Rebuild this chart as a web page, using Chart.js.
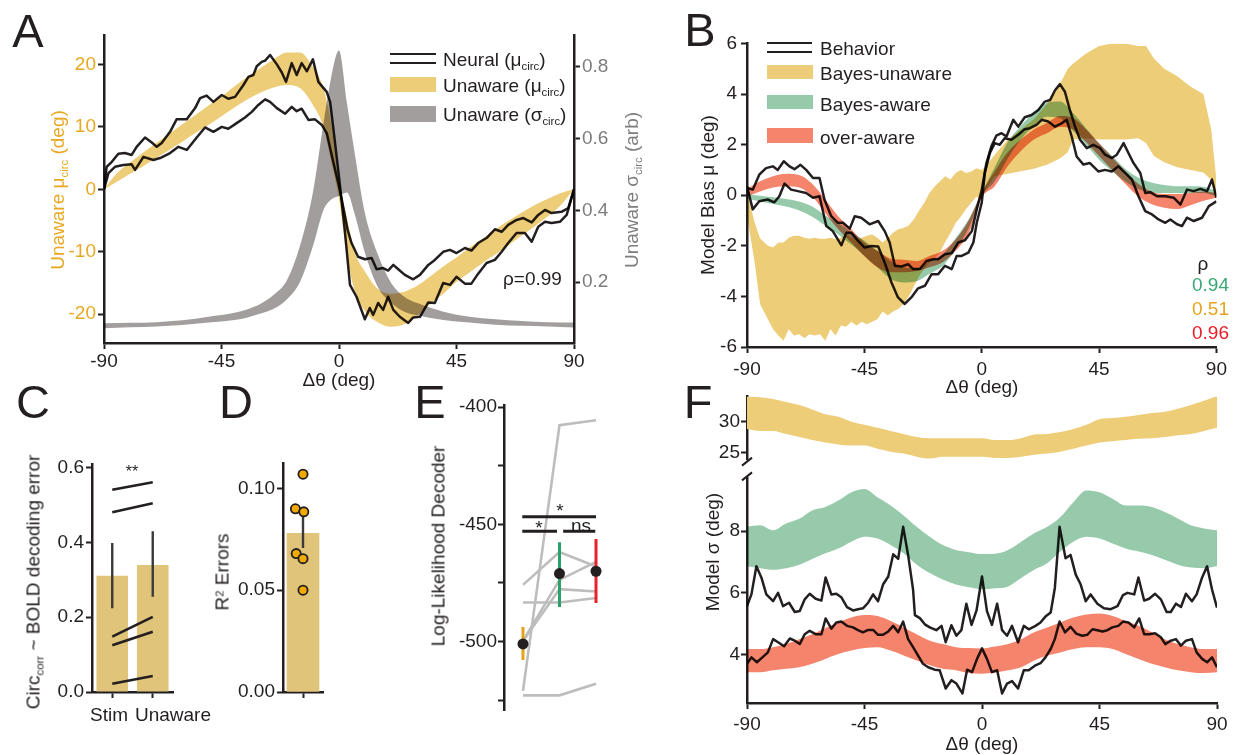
<!DOCTYPE html>
<html>
<head>
<meta charset="utf-8">
<script src="https://cdn.jsdelivr.net/npm/chart.js@4.4.1/dist/chart.umd.min.js"></script>
<style>
  html, body { margin: 0; padding: 0; background: #fff; }
  #fig { position: relative; width: 1239px; height: 755px; overflow: hidden;
         font-family: "Liberation Sans", Arial, sans-serif; color: #231f20; }
  #fig canvas { position: absolute; }
  .t { position: absolute; white-space: nowrap; line-height: 1; }
  .s { font-size: 0.6em; position: relative; top: 0.38em; }
  .p { font-size: 0.6em; position: relative; top: -0.45em; }
  .sw { position: absolute; }
</style>
</head>
<body>
<div id="fig"></div>
<script>
// ---------- shared ----------
const ANGLE_TICKS = [-90, -45, 0, 45, 90];

// ---------- A: neural bias vs. Bayes-unaware model ----------
const aMuTicks = [-20, -10, 0, 10, 20];
const aSigmaTicks = [0.2, 0.4, 0.6, 0.8];
const neuralA1 = [[-90,0],[-89,3.6],[-87,4.4],[-84.5,5.7],[-82,5.8],[-79.4,5.5],[-77.5,6.8],[-74.3,8.3],[-71.7,7.5],[-69.8,6.8],[-67.9,7.4],[-64.7,9.2],[-62.2,11.2],[-58.3,11.2],[-55.1,13.0],[-53.2,14.6],[-50.7,15.0],[-48.1,14.0],[-44.9,15.1],[-42.4,14.5],[-39.8,14.8],[-36.6,16.7],[-34.7,18.0],[-32.8,18.3],[-31.5,19.7],[-29.6,20.4],[-28.3,20.6],[-26.4,21.5],[-23.8,20.0],[-21.9,18.7],[-20.3,17.2],[-18.1,20.2],[-16.2,18.3],[-14.3,20.2],[-12.3,18.9],[-10.0,20.8],[-7.9,17.2],[-4.7,15.6],[-3.4,14.0],[-2.1,9.5],[0,2.0],[2.2,-6.5],[4.2,-15.3],[6.7,-17.2],[9.9,-20.8],[11.8,-19.0],[13.1,-20.1],[15.0,-18.2],[16.9,-19.3],[18.8,-17.2],[20.8,-19.3],[23.3,-20.4],[26.5,-21.4],[28.4,-20.5],[31.0,-20.4],[34.2,-18.1],[36.7,-18.2],[39.9,-15.0],[42.5,-15.3],[45.0,-14.0],[48.2,-15.1],[50.7,-15.1],[53.3,-13.5],[56.5,-11.8],[59.7,-11.3],[62.3,-10.0],[64.8,-8.6],[68.0,-7.0],[71.2,-7.0],[73.8,-8.4],[76.3,-6.0],[78.9,-5.2],[81.4,-5.4],[84.6,-5.2],[87.2,-4.1],[90,0]];
const neuralA2 = [[-90,0],[-88.3,2.6],[-85.8,3.6],[-82.6,3.9],[-79.4,4.0],[-78.1,3.1],[-74.9,5.2],[-71.1,4.7],[-68.5,5.0],[-64.7,5.8],[-61.5,6.8],[-58.3,6.3],[-54.5,8.3],[-51.3,9.9],[-48.1,9.2],[-44.9,10.0],[-42.4,9.7],[-39.2,10.6],[-36.0,11.5],[-33.4,12.4],[-30.9,13.5],[-28.3,14.4],[-26.4,14.0],[-23.8,13.0],[-20.6,12.1],[-18.1,13.2],[-16.2,12.5],[-14.3,12.9],[-11.7,11.1],[-9.2,11.2],[-6.6,10.3],[-4.7,9.0],[-2.1,4.2],[0,0.5],[1.0,-1.5],[3.3,-6.5],[4.8,-8.6],[7.3,-10.8],[9.9,-11.2],[12.5,-11.0],[14.4,-12.8],[16.9,-12.6],[18.8,-13.0],[20.8,-12.1],[22.7,-12.8],[25.2,-13.7],[28.4,-14.4],[31.0,-13.7],[34.2,-12.1],[36.7,-11.3],[39.9,-10.0],[42.5,-9.7],[45.0,-10.2],[48.2,-9.4],[50.7,-9.8],[53.3,-8.6],[56.5,-7.8],[59.7,-6.4],[62.3,-6.8],[64.8,-5.7],[68.0,-4.9],[70.6,-4.6],[73.8,-5.3],[76.3,-4.1],[78.9,-3.3],[81.4,-3.8],[85.2,-3.6],[87.8,-3.0],[90,0]];
// [deg, lower edge, upper edge]
const unawareMuA = [[-90,0,0],[-85,1.2,2.6],[-80,2.5,4.3],[-75,3.7,5.9],[-70,5.0,7.4],[-65,6.3,8.9],[-60,7.6,10.4],[-55,9.0,11.9],[-50,10.3,13.4],[-45,11.7,14.8],[-40,13.1,16.5],[-35,14.4,18.0],[-30,15.5,19.4],[-25,16.3,20.8],[-20,16.7,21.9],[-15,16.2,21.9],[-10,13.5,19.6],[-6,10.0,16.2],[-3,4.5,10.5],[0,-1.5,1.0],[3,-10.5,-4.5],[6,-16.2,-10.0],[10,-19.5,-13.2],[15,-21.3,-16.0],[20,-22.0,-16.7],[25,-21.6,-16.4],[30,-20.2,-15.4],[35,-18.3,-13.9],[40,-16.7,-12.3],[45,-14.8,-10.9],[50,-13.3,-9.3],[55,-11.8,-7.9],[60,-10.4,-6.4],[65,-8.9,-5.0],[70,-7.4,-3.7],[75,-5.9,-2.5],[80,-4.3,-1.5],[85,-2.5,-0.6],[90,0,0]];
const unawareSigmaA = [[-90,0.072,0.086],[-80,0.075,0.087],[-70,0.077,0.089],[-60,0.081,0.094],[-50,0.088,0.104],[-40,0.095,0.115],[-35,0.102,0.125],[-30,0.113,0.140],[-25,0.126,0.165],[-20,0.152,0.205],[-15,0.20,0.30],[-10,0.30,0.45],[-6,0.40,0.64],[-3,0.43,0.77],[0,0.44,0.845],[3,0.45,0.70],[6,0.39,0.56],[10,0.28,0.39],[15,0.185,0.275],[20,0.143,0.198],[25,0.118,0.160],[30,0.108,0.142],[40,0.095,0.118],[50,0.088,0.104],[60,0.082,0.097],[70,0.079,0.092],[80,0.077,0.089],[90,0.074,0.088]];

// ---------- B: behavioural bias vs. models ----------
const bTicks = [-6, -4, -2, 0, 2, 4, 6];
const behaviorB1 = [[-90,0.29],[-87.8,0.22],[-85.3,0.81],[-82.7,1.07],[-80.1,1.14],[-78.2,1.0],[-75.9,1.34],[-73.7,1.14],[-71.8,1.03],[-69.5,1.2],[-67.3,1.0],[-64.7,0.68],[-62.2,0.68],[-60.3,-0.17],[-57.7,-0.83],[-55.1,-1.09],[-53.2,-1.09],[-50.6,-1.32],[-48.7,-0.83],[-46.2,-0.89],[-43.0,-1.15],[-39.7,-1.02],[-37.2,-1.42],[-35.3,-1.87],[-33.3,-2.79],[-30.8,-2.82],[-28.2,-2.73],[-26.3,-2.92],[-23.7,-2.92],[-21.2,-2.6],[-18.6,-2.53],[-16.7,-2.53],[-14.1,-2.33],[-11.5,-2.29],[-9.0,-1.87],[-6.4,-1.78],[-3.8,-1.42],[-1.9,-0.56],[0,0.2],[1.8,1.27],[3.7,1.93],[5.6,2.35],[7.6,2.45],[9.5,2.32],[12.1,2.98],[14.0,2.71],[16.5,3.08],[19.1,3.17],[21.7,3.37],[24.2,3.7],[26.2,3.76],[28.1,4.15],[30.0,4.39],[31.9,4.09],[33.8,3.37],[35.8,2.71],[37.7,2.19],[40.3,1.86],[42.8,1.99],[45.4,1.86],[47.3,1.6],[49.9,1.47],[51.8,1.6],[54.4,2.06],[56.3,1.66],[58.2,1.27],[60.8,0.88],[62.7,0.09],[64.6,0.12],[67.2,-0.04],[70.4,-0.04],[73.6,-0.1],[76.2,-0.37],[78.7,0.22],[81.3,0.16],[83.8,0.25],[86.4,0.16],[88.3,0.62],[90,-0.1]];
const behaviorB2 = [[-90,0.35],[-87.8,-0.56],[-85.3,-0.24],[-82.1,-0.17],[-79.5,-0.28],[-77.6,-0.04],[-75.6,0.46],[-73.1,0.22],[-70.5,0.16],[-67.3,0.09],[-64.7,-0.1],[-62.2,-0.04],[-59.6,-1.22],[-57.1,-1.42],[-53.8,-1.98],[-51.9,-1.48],[-50.0,-1.48],[-47.4,-1.81],[-44.9,-2.07],[-42.3,-2.01],[-39.7,-2.03],[-37.2,-2.66],[-34.6,-3.45],[-32.1,-4.04],[-29.5,-4.3],[-27.0,-4.04],[-24.4,-3.68],[-21.8,-3.58],[-19.2,-3.12],[-16.7,-3.12],[-14.1,-2.79],[-11.5,-2.92],[-9.6,-2.4],[-7.7,-2.4],[-5.1,-2.27],[-3.2,-1.87],[-1.9,-1.09],[0,-0.3],[1.2,0.88],[3.1,1.66],[5.0,2.06],[6.9,1.99],[8.8,2.25],[11.4,2.19],[14.0,2.39],[16.5,2.61],[18.5,2.65],[21.0,2.78],[23.0,2.98],[25.5,2.91],[28.1,2.71],[30.6,2.84],[32.6,2.98],[34.5,2.32],[36.4,1.53],[39.0,1.21],[41.5,1.27],[44.7,0.94],[47.3,1.0],[49.9,0.94],[52.4,1.14],[55.0,0.88],[57.6,0.62],[60.1,-0.04],[62.7,-0.63],[65.3,-0.76],[67.8,-0.96],[70.4,-1.09],[72.3,-0.96],[74.9,-1.15],[76.8,-1.22],[78.7,-0.89],[81.3,-1.02],[84.5,-0.89],[87.1,-0.43],[90,-0.24]];
const unawareB = [[-90,-0.8,0.1],[-87,-2.7,-1.1],[-85,-4.3,-1.7],[-82,-4.9,-2.0],[-80,-5.3,-2.07],[-78,-5.55,-1.87],[-76,-5.75,-1.87],[-74,-5.3,-1.68],[-72,-5.55,-1.6],[-70,-5.5,-1.6],[-68,-5.65,-1.68],[-66,-5.5,-1.72],[-64,-5.55,-1.68],[-62,-5.5,-1.72],[-60,-5.75,-1.72],[-58,-5.3,-1.68],[-56,-5.55,-1.74],[-54,-5.15,-1.68],[-52,-5.2,-1.55],[-50,-5.0,-1.68],[-48,-5.15,-1.74],[-46,-5.0,-1.68],[-44,-5.1,-1.6],[-42,-5.0,-1.55],[-40,-4.9,-1.68],[-38,-4.6,-1.87],[-36,-4.75,-1.68],[-34,-4.6,-1.48],[-32,-4.5,-1.35],[-30,-4.3,-1.3],[-28,-4.0,-1.2],[-26,-3.6,-0.95],[-24,-3.2,-0.6],[-22,-2.9,-0.3],[-20,-2.65,0.1],[-18,-2.5,0.35],[-16,-2.25,0.55],[-14,-1.85,0.75],[-12,-1.5,0.62],[-10,-1.1,0.88],[-8,-0.85,1.0],[-6,-0.55,0.88],[-4,-0.3,0.94],[-2,-0.05,1.07],[0,-0.2,1.0],[2,0.3,1.2],[5,0.75,1.6],[10,0.85,2.2],[15,0.95,2.6],[20,1.05,3.0],[25,1.2,3.6],[30,1.45,4.4],[33,1.7,5.0],[35,2.2,5.2],[40,2.25,5.6],[45,2.2,5.9],[50,2.2,6.0],[55,2.2,6.0],[60,2.25,5.9],[63,2.06,5.9],[66,1.55,5.4],[70,1.3,5.0],[75,1.1,4.7],[80,1.0,4.3],[85,0.9,4.0],[88,0.6,2.6],[90,-0.1,0.6]];
const awareB = [[-90,-0.12,0.05],[-85,-0.25,-0.02],[-80,-0.35,-0.08],[-75,-0.45,-0.15],[-70,-0.6,-0.25],[-65,-0.85,-0.45],[-60,-1.2,-0.8],[-55,-1.55,-1.1],[-50,-1.95,-1.45],[-45,-2.4,-1.8],[-40,-2.85,-2.2],[-35,-3.3,-2.6],[-30,-3.45,-2.85],[-25,-3.4,-2.9],[-20,-3.1,-2.6],[-15,-2.8,-2.35],[-10,-2.15,-1.7],[-5,-1.3,-0.95],[0,-0.05,0.1],[5,0.55,1.1],[10,1.45,2.1],[15,2.2,2.75],[20,2.75,3.25],[25,3.1,3.65],[30,3.05,3.7],[35,2.55,3.25],[40,2.0,2.65],[45,1.4,2.05],[50,0.95,1.55],[55,0.55,1.05],[60,0.25,0.7],[65,0.12,0.5],[70,0.09,0.4],[75,0.09,0.35],[80,0.09,0.35],[85,0.09,0.33],[90,-0.04,0.16]];
const overAwareB = [[-90,-0.05,0.25],[-85,0.15,0.55],[-80,0.3,0.75],[-75,0.35,0.85],[-70,0.3,0.8],[-65,-0.05,0.45],[-60,-0.7,-0.17],[-55,-1.35,-0.83],[-50,-1.87,-1.35],[-45,-2.4,-1.87],[-40,-2.85,-2.2],[-35,-3.05,-2.5],[-30,-3.05,-2.55],[-25,-3.0,-2.6],[-20,-2.85,-2.4],[-15,-2.65,-2.2],[-10,-2.2,-1.75],[-5,-1.5,-1.0],[0,-0.1,0.1],[5,0.35,0.95],[10,1.15,1.7],[15,1.75,2.2],[20,2.2,2.6],[25,2.45,2.85],[30,2.7,3.13],[35,2.6,3.05],[40,2.1,2.6],[45,1.55,2.05],[50,1.0,1.5],[55,0.45,0.95],[60,-0.05,0.45],[65,-0.35,0.15],[70,-0.5,0.05],[75,-0.55,0.05],[80,-0.4,0.1],[85,-0.22,0.15],[90,-0.1,0.1]];

// ---------- C: circular correlation with decoding error ----------
const cCats = ['Stim', 'Unaware'];
const cTicks = [0, 0.2, 0.4, 0.6];
const cMeans = [0.311, 0.340];
const cErr = [[0.224, 0.399], [0.255, 0.430]];
const cPairs = [[0.541, 0.561], [0.481, 0.505], [0.148, 0.201], [0.125, 0.161], [0.022, 0.043]];

// ---------- D: R^2 of errors ----------
const dTicks = [0, 0.05, 0.10];
const dMean = 0.078;
const dErr = [0.0707, 0.0898];
const dPoints = [[0, 0.107], [-0.19, 0.090], [0.02, 0.0885], [-0.17, 0.068], [0, 0.0655], [0, 0.050]];

// ---------- E: decoder log-likelihood ----------
const eTicks = [-525, -500, -475, -450, -425, -400];
const eSubjects = [[-521.0, -407.7, -405.6], [-475.8, -461.8, -468.0], [-483.3, -483.3, -481.4], [-499.7, -477.6, -478.6], [-499.7, -473.7, -466.0], [-522.9, -522.9, -518.0]];
const eMeans = [-501, -471, -470];
const eErr = [[-507.8, -493.8], [-485.2, -457.6], [-483.5, -456.2]];
const eColors = ['#e5a21c', '#2e9e6b', '#e8202a'];
// [from, to, level]
const eSigBars = [[-0.02, 2.0, -446.8], [-0.02, 0.93, -453.0], [1.1, 1.98, -453.0]];

// ---------- F: model sigma ----------
const fTopTicks = [25, 30];
const fLowTicks = [4, 6, 8];
const unawareF = [[-90,28.8,34.2],[-85,28.5,34.0],[-80,28.5,33.7],[-75,28.0,33.2],[-70,27.5,32.7],[-65,27.0,32.0],[-60,26.6,31.2],[-55,26.3,30.8],[-50,26.1,30.0],[-45,26.1,29.5],[-40,25.6,29.0],[-35,25.1,28.5],[-30,24.8,28.0],[-25,24.3,27.5],[-20,24.0,27.3],[-15,24.3,27.3],[-10,24.3,27.3],[-5,24.3,27.3],[0,24.3,27.3],[5,24.1,27.0],[10,24.1,27.0],[15,24.3,27.3],[20,24.6,27.9],[25,24.8,28.0],[30,25.1,28.3],[35,25.6,28.8],[40,26.1,29.5],[45,26.6,30.4],[50,26.8,30.6],[55,27.0,30.8],[60,27.2,31.1],[65,27.3,31.4],[70,27.5,31.6],[75,27.8,32.1],[80,28.0,32.7],[85,28.5,33.4],[90,29.0,34.2]];
const awareF = [[-90,6.86,8.14],[-85,6.8,8.19],[-80,6.75,8.03],[-75,6.8,8.25],[-70,6.91,8.4],[-65,7.1,8.67],[-60,7.28,8.78],[-55,7.44,8.99],[-50,7.66,9.26],[-45,7.82,9.37],[-40,7.76,9.1],[-35,7.55,8.83],[-30,7.28,8.51],[-25,6.91,8.14],[-20,6.64,7.82],[-15,6.43,7.55],[-10,6.27,7.39],[-5,6.18,7.32],[0,6.12,7.26],[5,6.15,7.27],[10,6.21,7.39],[15,6.48,7.66],[20,6.75,7.93],[25,6.96,8.14],[30,7.34,8.46],[35,7.66,8.94],[40,7.82,9.32],[45,7.76,9.26],[50,7.6,9.05],[55,7.44,8.83],[60,7.34,8.83],[65,7.23,8.78],[70,7.07,8.62],[75,6.91,8.41],[80,6.82,8.19],[85,6.8,8.09],[90,6.86,8.03]];
const overAwareF = [[-90,3.43,4.18],[-85,3.43,4.18],[-80,3.49,4.24],[-75,3.54,4.34],[-70,3.59,4.5],[-65,3.7,4.66],[-60,3.86,4.86],[-55,4.02,5.04],[-50,4.13,5.2],[-45,4.21,5.28],[-40,4.24,5.25],[-35,4.13,5.09],[-30,3.97,4.88],[-25,3.81,4.66],[-20,3.65,4.45],[-15,3.54,4.34],[-10,3.49,4.24],[-5,3.4,4.21],[0,3.38,4.2],[5,3.42,4.26],[10,3.49,4.34],[15,3.59,4.5],[20,3.81,4.72],[25,3.97,4.88],[30,4.07,5.04],[35,4.18,5.2],[40,4.24,5.3],[45,4.24,5.33],[50,4.18,5.25],[55,4.02,5.09],[60,3.86,4.93],[65,3.7,4.72],[70,3.59,4.5],[75,3.49,4.34],[80,3.43,4.24],[85,3.4,4.18],[90,3.43,4.18]];
const neuralF1 = [[-90,5.57],[-88.3,5.95],[-86.4,6.86],[-84.5,6.5],[-82.6,5.95],[-80,5.73],[-78.1,6.0],[-76.2,5.57],[-73.9,5.68],[-71.7,5.38],[-69.8,5.41],[-67.9,5.79],[-66,5.97],[-63.7,5.81],[-61.5,5.75],[-59.9,6.5],[-57.7,5.95],[-55.8,5.97],[-53.9,5.86],[-51.7,5.54],[-49.4,5.43],[-47.5,5.47],[-45.6,5.5],[-43.6,5.68],[-41.7,5.95],[-39.8,5.73],[-37.9,6.27],[-35.9,6.53],[-34,7.25],[-32.1,7.1],[-30.2,8.14],[-28.3,7.23],[-26.4,6.11],[-25.7,5.28],[-23.8,5.18],[-21.9,4.98],[-20,4.88],[-17.5,4.79],[-15.5,4.93],[-13.9,4.4],[-11.7,4.95],[-9.8,4.61],[-7.9,4.79],[-6,5.65],[-4,4.96],[-2.1,5.43],[0,6.53],[1.9,5.41],[3.8,4.96],[5.8,5.65],[7.7,4.79],[9.6,4.61],[11.5,4.93],[13.8,4.4],[16,4.93],[17.9,4.82],[20.5,4.93],[22.4,5.04],[24.3,5.23],[26.3,5.36],[27.9,6.16],[29.7,8.14],[32,7.12],[33.9,7.23],[35.9,6.59],[37.8,6.27],[39.7,5.73],[41.6,5.95],[44.2,5.65],[46.7,5.5],[49.3,5.47],[51.9,5.57],[54,5.93],[55.7,6.0],[58.3,5.95],[59.9,6.5],[62.1,5.75],[64,5.81],[66.3,5.97],[68.5,5.79],[70.7,5.38],[72.3,5.38],[74.3,5.65],[76.2,5.54],[78.1,5.97],[80.4,5.73],[82.2,5.95],[84.3,6.5],[86.2,6.86],[88.1,6.11],[90,5.52]];
const neuralF2 = [[-90,3.7],[-88.3,3.91],[-86.2,3.75],[-84.1,3.91],[-82,4.07],[-80,4.5],[-78.1,4.4],[-75.8,4.27],[-73.6,4.52],[-71.7,4.45],[-69.8,4.34],[-67.9,4.66],[-66,4.77],[-63.7,4.66],[-61.5,4.66],[-59.9,5.17],[-57.7,4.84],[-55.8,5.04],[-53.9,5.07],[-51.7,4.93],[-49.4,4.88],[-47.5,4.79],[-45.6,4.72],[-43.6,4.8],[-41.7,4.8],[-39.8,4.64],[-37.9,4.64],[-35.9,4.75],[-34,4.93],[-32.1,4.72],[-30.2,5.07],[-28.3,4.5],[-26.4,4.24],[-24.5,3.97],[-22.6,3.7],[-20.6,3.59],[-18.1,3.51],[-16.2,3.49],[-13.9,2.9],[-11.7,3.17],[-9.8,3.06],[-7.5,2.74],[-5.7,3.51],[-3.8,3.43],[-1.9,3.86],[0,4.2],[1.9,3.86],[3.8,3.43],[5.8,3.49],[7.7,2.74],[9.6,3.06],[11.5,3.14],[13.8,2.9],[16,3.49],[17.9,3.49],[20.5,3.65],[22.4,3.72],[24.3,3.91],[26.3,4.18],[27.9,4.5],[29.7,5.07],[31.8,4.72],[33.9,4.9],[36.1,4.68],[38.4,4.61],[40.3,4.64],[42.3,4.82],[44.2,4.79],[46.1,4.75],[48,4.79],[49.9,4.88],[52.2,4.93],[54,5.07],[56.1,5.04],[58.3,4.88],[60.2,5.17],[62.1,4.66],[64,4.66],[66.3,4.69],[68.5,4.56],[70.2,4.34],[72.3,4.45],[74.3,4.5],[76.2,4.29],[78.1,4.45],[80.4,4.5],[82.2,4.07],[84.3,3.86],[86.2,3.75],[88.1,3.91],[90,3.59]];

// ---------- styling ----------
const INK = '#231f20';
const GOLD = '#eecd78', GREY = '#a39e9e', GREEN = '#97caab', SALMON = '#f4846c';
const BAR = '#dfc47a', DOT = '#f2a900';
const GOLD_TXT = '#e9a823', GREY_TXT = '#7d7d7d';

Chart.defaults.font.family = '"Liberation Sans", Arial, sans-serif';
Chart.defaults.font.size = 19;
Chart.defaults.color = INK;

const fig = document.getElementById('fig');

// canvas sized so the plot area lands on `area`; m = room for axes
function mount(area, m) {
  const c = document.createElement('canvas');
  const w = m.l + (area.r - area.l) + m.r;
  const h = m.t + (area.b - area.t) + m.b;
  c.width = w; c.height = h;
  c.style.left = (area.l - m.l) + 'px';
  c.style.top = (area.t - m.t) + 'px';
  c.style.width = w + 'px';
  c.style.height = h + 'px';
  fig.appendChild(c);
  return c;
}

function options(m, scales, rightAxis, bottomAxis) {
  return {
    responsive: false, animation: false, devicePixelRatio: 1,
    layout: { padding: { left: 0, top: m.t, right: rightAxis ? 0 : m.r, bottom: bottomAxis ? 0 : m.b } },
    plugins: { legend: { display: false }, tooltip: { enabled: false } },
    scales
  };
}

const tickGrid = { drawOnChartArea: false, drawTicks: true, tickLength: 6, tickWidth: 2, tickColor: INK, offset: false };
const axisLine = { display: true, color: INK, width: 2.5 };

function scale(o) {
  const horiz = o.position === 'bottom';
  return {
    type: 'linear', position: o.position, min: o.min, max: o.max, offset: false,
    afterBuildTicks: s => { s.ticks = o.ticks.map(v => ({ value: v })); },
    afterFit: s => { if (horiz) s.height = o.size; else s.width = o.size; },
    ticks: { color: o.color || INK, padding: o.pad ?? 2, autoSkip: false, maxRotation: 0,
             callback: o.fmt || (v => String(v)) },
    grid: tickGrid,
    border: axisLine
  };
}

const xy = (rows, i = 1) => rows.map(r => ({ x: r[0], y: r[i] }));

function trace(rows, order = 0) {
  return { data: xy(rows), borderColor: INK, borderWidth: 2.5, pointRadius: 0, fill: false,
           tension: 0, borderJoinStyle: 'round', order };
}

function band(rows, color, order, smooth, yAxisID = 'y') {
  const common = { pointRadius: 0, borderWidth: 0, borderColor: 'transparent', order, yAxisID,
                   cubicInterpolationMode: smooth ? 'monotone' : 'default', tension: 0 };
  return [
    { ...common, data: xy(rows, 1), fill: false },
    { ...common, data: xy(rows, 2), fill: '-1', backgroundColor: color }
  ];
}

function whisker(x, range, color, width, order) {
  return { type: 'line', data: [{ x, y: range[0] }, { x, y: range[1] }], borderColor: color,
           borderWidth: width, pointRadius: 0, fill: false, order };
}

// overlapping shaded bands darken each other like print ink
const multiply = {
  id: 'multiply',
  beforeDatasetsDraw(chart) { chart.ctx.save(); chart.ctx.globalCompositeOperation = 'multiply'; },
  afterDatasetsDraw(chart) { chart.ctx.restore(); }
};

// slanted marks where the sigma axis is cut
const axisBreak = edge => ({
  id: 'axisBreak',
  afterDraw(chart) {
    const { ctx, chartArea: a } = chart;
    const y = edge === 'bottom' ? a.bottom + 2 : a.top - 2;
    ctx.save();
    ctx.strokeStyle = INK; ctx.lineWidth = 2;
    ctx.beginPath(); ctx.moveTo(a.left - 5, y + 4); ctx.lineTo(a.left + 5, y - 4); ctx.stroke();
    ctx.restore();
  }
});

// ---------- A ----------
const aArea = { l: 104, r: 574, t: 35, b: 343 }, aM = { l: 60, r: 50, t: 15, b: 35 };
new Chart(mount(aArea, aM), {
  type: 'line',
  data: { datasets: [
    trace(neuralA1), trace(neuralA2),
    ...band(unawareSigmaA, GREY, 1, true, 'y2'),
    ...band(unawareMuA, GOLD, 2, true)
  ] },
  options: options(aM, {
    x: scale({ position: 'bottom', min: -90, max: 90, ticks: ANGLE_TICKS, size: aM.b, pad: 1 }),
    y: scale({ position: 'left', min: -24.6, max: 24.7, ticks: aMuTicks, size: aM.l, color: GOLD_TXT }),
    y2: scale({ position: 'right', min: 0.031, max: 0.888, ticks: aSigmaTicks, size: aM.r, color: GREY_TXT,
                fmt: v => v.toFixed(1) })
  }, true, true),
  plugins: [multiply]
});

// ---------- B ----------
const bArea = { l: 747, r: 1217, t: 42, b: 347 }, bM = { l: 50, r: 15, t: 14, b: 40 };
new Chart(mount(bArea, bM), {
  type: 'line',
  data: { datasets: [
    trace(behaviorB1), trace(behaviorB2),
    ...band(overAwareB, SALMON, 1, true),
    ...band(awareB, GREEN, 2, true),
    ...band(unawareB, GOLD, 3, false)
  ] },
  options: options(bM, {
    x: scale({ position: 'bottom', min: -90, max: 90, ticks: ANGLE_TICKS, size: bM.b, pad: 5 }),
    y: scale({ position: 'left', min: -6, max: 6, ticks: bTicks, size: bM.l, pad: 4 })
  }, false, true),
  plugins: [multiply]
});

// ---------- C ----------
const cArea = { l: 92, r: 173, t: 463, b: 692 }, cM = { l: 50, r: 10, t: 12, b: 30 };
new Chart(mount(cArea, cM), {
  type: 'bar',
  data: { labels: cCats, datasets: [
    ...cPairs.map(p => ({ type: 'line', data: p, borderColor: INK, borderWidth: 2.6, pointRadius: 0, fill: false, order: 0 })),
    ...cCats.map((c, i) => whisker(c, cErr[i], '#3a3a3a', 2.4, 1)),
    { type: 'bar', data: cMeans, backgroundColor: BAR, barPercentage: 0.78, categoryPercentage: 1, order: 2 }
  ] },
  options: options(cM, {
    x: { type: 'category', position: 'bottom', offset: true,
         afterFit: s => { s.height = cM.b; },
         ticks: { display: false }, grid: tickGrid, border: axisLine },
    y: scale({ position: 'left', min: 0, max: 0.609, ticks: cTicks, size: cM.l, fmt: v => v.toFixed(1) })
  }, false, true)
});

// ---------- D ----------
const dArea = { l: 283, r: 323, t: 462, b: 692 }, dM = { l: 62, r: 10, t: 12, b: 30 };
new Chart(mount(dArea, dM), {
  type: 'bar',
  data: { datasets: [
    { type: 'line', data: xy(dPoints), showLine: false, pointRadius: 4.6, pointBackgroundColor: DOT,
      pointBorderColor: INK, pointBorderWidth: 1.8, order: 0 },
    whisker(0, dErr, '#3a3a3a', 2.4, 1),
    { type: 'bar', data: [{ x: 0, y: dMean }], backgroundColor: BAR, barThickness: 32, order: 2 }
  ] },
  options: options(dM, {
    x: scale({ position: 'bottom', min: -0.5, max: 0.5, ticks: [0], size: dM.b, fmt: () => '' }),
    y: scale({ position: 'left', min: 0, max: 0.1123, ticks: dTicks, size: dM.l, fmt: v => v.toFixed(2) })
  }, false, true)
});

// ---------- E ----------
const eArea = { l: 504, r: 615, t: 405, b: 713 }, eM = { l: 56, r: 10, t: 12, b: 10 };
new Chart(mount(eArea, eM), {
  type: 'line',
  data: { datasets: [
    ...eSigBars.map(s => ({ data: [{ x: s[0], y: s[2] }, { x: s[1], y: s[2] }], borderColor: INK,
                            borderWidth: 3, pointRadius: 0, fill: false, order: 0 })),
    { data: eMeans.map((v, i) => ({ x: i, y: v })), showLine: false, pointRadius: 5.5,
      pointBackgroundColor: INK, pointBorderWidth: 0, order: 1 },
    ...eMeans.map((_, i) => whisker(i, eErr[i], eColors[i], 3, 2)),
    ...eSubjects.map(s => ({ data: s.map((v, i) => ({ x: i, y: v })), borderColor: '#bdbdbd',
                             borderWidth: 2.6, pointRadius: 0, fill: false, order: 3 }))
  ] },
  options: options(eM, {
    x: { type: 'linear', display: false, min: -0.52, max: 2.52 },
    y: scale({ position: 'left', min: -529.4, max: -399.3, ticks: eTicks, size: eM.l, pad: 1,
               fmt: v => (v % 50 === 0 ? String(v) : '') })
  }, false, false)
});

// ---------- F (split axis) ----------
const fTopArea = { l: 747, r: 1217, t: 392, b: 462 }, fTopM = { l: 50, r: 15, t: 8, b: 10 };
new Chart(mount(fTopArea, fTopM), {
  type: 'line',
  data: { datasets: band(unawareF, GOLD, 1, true) },
  options: options(fTopM, {
    x: { type: 'linear', display: false, min: -90, max: 90 },
    y: scale({ position: 'left', min: 23.82, max: 34.12, ticks: fTopTicks, size: fTopM.l, pad: 1 })
  }, false, false),
  plugins: [axisBreak('bottom')]
});

const fLowArea = { l: 747, r: 1217, t: 476, b: 703 }, fLowM = { l: 50, r: 15, t: 10, b: 40 };
new Chart(mount(fLowArea, fLowM), {
  type: 'line',
  data: { datasets: [
    trace(neuralF1), trace(neuralF2),
    ...band(overAwareF, SALMON, 1, true),
    ...band(awareF, GREEN, 2, true)
  ] },
  options: options(fLowM, {
    x: scale({ position: 'bottom', min: -90, max: 90, ticks: ANGLE_TICKS, size: fLowM.b, pad: 4 }),
    y: scale({ position: 'left', min: 2.43, max: 9.71, ticks: fLowTicks, size: fLowM.l, pad: 1 })
  }, false, true),
  plugins: [multiply, axisBreak('top')]
});

// ---------- text, legends, panel letters ----------
function text(html, x, y, o = {}) {
  const d = document.createElement('div');
  d.className = 't';
  d.innerHTML = html;
  d.style.left = x + 'px';
  d.style.top = y + 'px';
  d.style.fontSize = (o.size || 19) + 'px';
  if (o.color) d.style.color = o.color;
  const tx = o.align === 'left' ? '0' : o.align === 'right' ? '-100%' : '-50%';
  d.style.transform = `translate(${tx},-50%)` + (o.rot ? ` rotate(${o.rot}deg)` : '');
  fig.appendChild(d);
}
function swatch(x, y, w, h, color) {
  const d = document.createElement('div');
  d.className = 'sw';
  Object.assign(d.style, { left: x + 'px', top: y + 'px', width: w + 'px', height: h + 'px', background: color });
  fig.appendChild(d);
}
function pairLine(x, y, w) {
  swatch(x, y - 1.25, w, 2.5, INK);
  swatch(x, y + 7.75, w, 2.5, INK);
}

[['A', 28, 30], ['B', 700, 29], ['C', 33, 401], ['D', 236, 401], ['E', 430, 401], ['F', 698, 401]]
  .forEach(([l, x, y]) => text(l, x, y, { size: 47 }));

// A
text('Δθ (deg)', 339, 379);
text('Unaware μ<span class="s">circ</span> (deg)', 57, 190, { rot: -90, color: GOLD_TXT });
text('Unaware σ<span class="s">circ</span> (arb)', 631, 190, { rot: -90, color: GREY_TXT });
text('ρ=0.99', 503, 278, { align: 'left' });
pairLine(390, 54, 46);
text('Neural (μ<span class="s">circ</span>)', 443, 59, { align: 'left' });
swatch(390, 77, 46, 15, GOLD);
text('Unaware (μ<span class="s">circ</span>)', 443, 85, { align: 'left' });
swatch(390, 106, 46, 16, GREY);
text('Unaware (σ<span class="s">circ</span>)', 443, 114, { align: 'left' });

// B
text('Δθ (deg)', 982, 386);
text('Model Bias μ (deg)', 707, 195, { rot: -90 });
pairLine(767, 43, 45);
text('Behavior', 820, 48, { align: 'left' });
swatch(767, 65, 46, 14, GOLD);
text('Bayes-unaware', 820, 73, { align: 'left' });
swatch(767, 95, 46, 14, GREEN);
text('Bayes-aware', 820, 104, { align: 'left' });
swatch(767, 128, 46, 15, SALMON);
text('over-aware', 820, 137, { align: 'left' });
text('ρ', 1203, 263);
text('0.94', 1229, 284, { align: 'right', color: '#3aa876' });
text('0.51', 1229, 308, { align: 'right', color: '#e6a41e' });
text('0.96', 1229, 332, { align: 'right', color: '#ec1c24' });

// C
text('Circ<span class="s">corr</span> ~ BOLD decoding error', 33, 582, { rot: -90 });
text('**', 132, 472, { size: 16 });
text(cCats[0], 109, 714);
text(cCats[1], 173, 714);

// D
text('R<span class="p">2</span> Errors', 222, 572, { rot: -90 });

// E
text('Log-Likelihood Decoder', 438, 546, { rot: -90 });
text('*', 560, 510);
text('*', 539, 527);
text('ns', 581, 525);

// F
text('Δθ (deg)', 982, 743);
text('Model σ (deg)', 712, 552, { rot: -90 });
</script>
</body>
</html>
